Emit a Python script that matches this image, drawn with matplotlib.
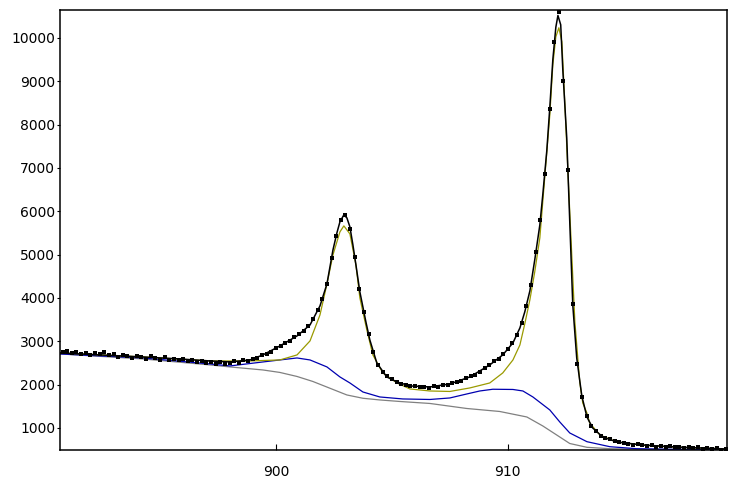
import numpy as np
import matplotlib
matplotlib.use("Agg")
import matplotlib.pyplot as plt

# Measured spectrum (dots), 0.2 step
x_start, x_step = 890.8, 0.2
counts = [
    2745, 2770, 2720, 2760, 2700, 2740, 2690, 2730, 2700, 2750,
    2680, 2700, 2640, 2690, 2660, 2620, 2670, 2630, 2600, 2650,
    2620, 2580, 2630, 2570, 2600, 2560, 2590, 2540, 2560, 2520,
    2550, 2500, 2530, 2480, 2520, 2470, 2510, 2540, 2500, 2560,
    2540, 2600, 2610, 2680, 2700, 2760, 2850, 2900, 2960, 3010,
    3090, 3160, 3240, 3360, 3520, 3720, 3980, 4330, 4930, 5430,
    5800, 5920, 5600, 4940, 4200, 3680, 3160, 2760, 2450, 2300,
    2190, 2120, 2070, 2010, 1990, 1960, 1970, 1940, 1950, 1930,
    1960, 1950, 1990, 2000, 2040, 2060, 2090, 2150, 2190, 2230,
    2300, 2380, 2450, 2540, 2600, 2700, 2820, 2960, 3150, 3420,
    3820, 4300, 5050, 5800, 6850, 8350, 9900, 10600, 9000, 6950,
    3850, 2480, 1720, 1270, 1050, 930, 820, 770, 740, 700,
    670, 660, 640, 610, 630, 600, 590, 610, 570, 590,
    560, 580, 550, 570, 540, 560, 530, 550, 520, 540,
    510, 530, 500, 520,
]
x_counts = x_start + x_step * np.arange(len(counts))

# Fit envelope (black line)
fit_x = [890.69, 892.41, 894.27, 895.86, 897.16, 898.02, 898.88, 899.44, 900.17, 900.91,
         901.47, 901.90, 902.20, 902.46, 902.63, 902.76, 902.93, 903.06, 903.19, 903.32,
         903.45, 903.62, 903.75, 903.88, 904.05, 904.35, 904.78, 905.22, 905.78, 906.64,
         907.50, 908.36, 909.22, 909.78, 910.22, 910.52, 910.73, 910.95, 911.16, 911.38,
         911.51, 911.68, 911.81, 911.94, 912.07, 912.16, 912.28, 912.37, 912.54, 912.67,
         912.80, 912.97, 913.19, 913.41, 913.66, 914.09, 914.70, 915.82, 917.28, 919.44]
fit_y = [2732, 2686, 2639, 2593, 2547, 2524, 2570, 2686, 2893, 3124,
         3378, 3817, 4325, 5110, 5503, 5757, 5918, 5849, 5641, 5225,
         4764, 4140, 3794, 3448, 3032, 2501, 2178, 2062, 1970, 1947,
         2016, 2178, 2455, 2686, 2963, 3309, 3678, 4163, 4879, 5687,
         6400, 7400, 8400, 9500, 10250, 10520, 10305, 9266, 7696, 5757,
         3840, 2616, 1739, 1254, 1000, 792, 677, 607, 561, 515]

# Peaks + background (olive)
peak_x = [890.69, 894.27, 897.16, 898.88, 900.17, 900.91, 901.47, 901.90, 902.20, 902.46,
          902.76, 902.93, 903.19, 903.45, 903.62, 903.75, 903.92, 904.18, 904.61, 905.22,
          905.78, 906.64, 907.50, 908.36, 909.22, 909.78, 910.22, 910.52, 910.73, 910.95,
          911.16, 911.38, 911.59, 911.81, 911.94, 912.07, 912.20, 912.33, 912.46, 912.67,
          912.89, 913.10, 913.23, 913.41, 913.53, 913.97, 914.70, 915.82, 916.98, 919.44]
peak_y = [2732, 2639, 2547, 2547, 2570, 2686, 3009, 3609, 4325, 4995,
          5526, 5664, 5479, 4764, 4002, 3678, 3263, 2686, 2270, 2039,
          1901, 1854, 1843, 1924, 2039, 2270, 2570, 2916, 3401, 3956,
          4602, 5387, 6773, 8227, 9382, 10028, 10236, 9913, 8458, 5987,
          3448, 2062, 1577, 1346, 1115, 838, 677, 607, 561, 515]

# Backgrounds
bg1_x = [890.69, 894.27, 897.16, 898.02, 899.44, 900.17, 900.91, 901.47, 902.20, 902.76,
         903.19, 903.75, 904.48, 905.47, 906.64, 907.50, 908.23, 908.79, 909.35, 910.22,
         910.65, 911.08, 911.81, 912.24, 912.67, 913.41, 914.40, 915.56, 916.98, 919.44]
bg1_y = [2709, 2616, 2478, 2432, 2524, 2570, 2616, 2570, 2409, 2178,
         2039, 1831, 1716, 1670, 1658, 1693, 1785, 1854, 1894, 1889,
         1854, 1716, 1416, 1139, 885, 684, 568, 522, 508, 505]

bg2_x = [890.69, 894.27, 897.16, 898.02, 899.44, 900.17, 900.91, 901.59, 902.33, 903.06,
         903.75, 904.48, 905.34, 906.64, 908.23, 909.65, 910.82, 911.51, 912.24, 912.67,
         913.41, 914.40, 916.12, 919.44]
bg2_y = [2709, 2593, 2455, 2409, 2339, 2282, 2189, 2074, 1917, 1762,
         1686, 1647, 1612, 1566, 1450, 1381, 1254, 1046, 792, 642,
         554, 522, 510, 504]

fig = plt.figure(figsize=(7.36, 4.79), dpi=100)
ax = fig.add_axes([60 / 736, 1 - 450 / 479, 667 / 736, 440 / 479])

ax.plot(bg2_x, bg2_y, color="#808080", lw=0.9)
ax.plot(bg1_x, bg1_y, color="#0000b0", lw=0.9)
ax.plot(peak_x, peak_y, color="#9a9a00", lw=0.9)
ax.plot(fit_x, fit_y, color="black", lw=1.1)
ax.plot(x_counts, counts, ls="none", marker="s", ms=2.4, color="black", mew=0)

ax.set_xlim(890.69, 919.45)
ax.set_ylim(492, 10646)
ax.set_xticks([900, 910])
ax.set_yticks(range(1000, 10001, 1000))
ax.tick_params(axis="x", direction="in", length=4, pad=11, labelsize=10)
ax.tick_params(axis="y", direction="out", length=2.5, pad=1, labelsize=10)
for s in ax.spines.values():
    s.set_linewidth(1.1)

fig.savefig("out.png", dpi=100)
